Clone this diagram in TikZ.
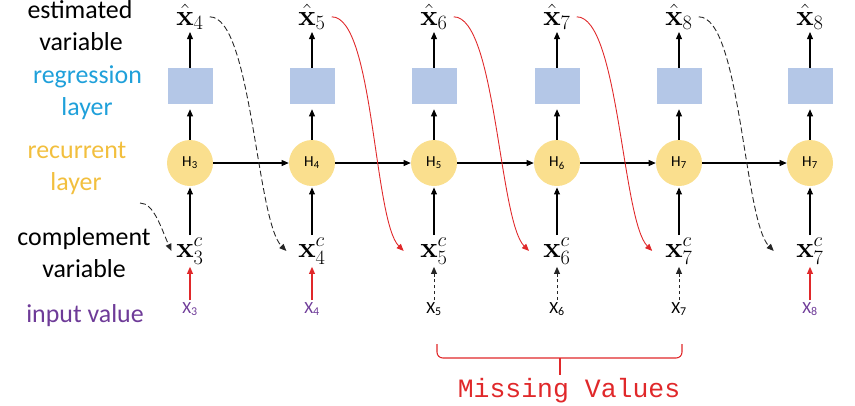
\documentclass[tikz,border=0pt]{standalone}
\usepackage[no-math]{fontspec}
\newfontfamily\labfont{Carlito}
\newfontfamily\mvfont{Liberation Mono}
\usetikzlibrary{arrows.meta}
\definecolor{boxblue}{HTML}{B4C7E7}
\definecolor{cellyellow}{HTML}{FADF8E}
\definecolor{regblue}{HTML}{1FA0DA}
\definecolor{recgold}{HTML}{F2BF3E}
\definecolor{inpurple}{HTML}{6E3B98}
\definecolor{missred}{HTML}{E0282A}
\begin{document}
\begin{tikzpicture}[x=0.85pt,y=-0.85pt,
  cell/.style={circle, fill=cellyellow, minimum size=46*0.85pt, inner sep=0pt, font=\labfont\fontsize{13}{15}\selectfont},
  regbox/.style={rectangle, fill=boxblue, minimum width=45*0.85pt, minimum height=36*0.85pt, inner sep=0pt},
  mathnode/.style={anchor=base, inner sep=2pt, font=\fontsize{24}{28}\selectfont},
  inpnode/.style={anchor=base, inner sep=1.5pt, font=\labfont\fontsize{14.5}{17}\selectfont},
  lbl/.style={anchor=base, inner sep=0pt, font=\labfont\fontsize{22}{26}\selectfont},
  arr/.style={-{Triangle[length=6pt,width=5pt]}, line width=0.9pt, black},
  solidin/.style={-{Triangle[length=6pt,width=5pt]}, line width=0.9pt, missred},
  dashin/.style={-{Triangle[length=6pt,width=5pt]}, line width=0.8pt, black!85, dash pattern=on 3pt off 2pt},
  redcarry/.style={-{Triangle[length=6pt,width=5pt]}, line width=0.75pt, missred},
  blackcarry/.style={-{Triangle[length=6pt,width=5pt]}, line width=0.75pt, black!85, dash pattern=on 5pt off 2.5pt},
]
\useasboundingbox (0,0) rectangle (855,405);

% left labels
\node[lbl] (l1a) at (80,18) {estimated};
\node[lbl] (l1b) at (81,50) {variable};
\node[lbl, text=regblue] (l2a) at (87.5,83) {regression};
\node[lbl, text=regblue] (l2b) at (87,115) {layer};
\node[lbl, text=recgold] (l3a) at (77,158) {recurrent};
\node[lbl, text=recgold] (l3b) at (76,190) {layer};
\node[lbl] (l4a) at (84,245) {complement};
\node[lbl] (l4b) at (84,277) {variable};
\node[lbl, text=inpurple] (l5) at (85,322) {input value};

% columns
\foreach \i/\x/\hs/\es/\cs/\is/\ic/\ia in {
  1/190/3/4/3/3/inpurple/solidin,
  2/312/4/5/4/4/inpurple/solidin,
  3/434/5/6/5/5/black/dashin,
  4/557/6/7/6/6/black/dashin,
  5/679/7/8/7/7/black/dashin,
  6/810/7/8/7/8/inpurple/solidin}{
  \node[cell] (h\i) at (\x,163) {H\textsubscript{\hs}};
  \node[regbox] (b\i) at (\x,86) {};
  \node[mathnode] (e\i) at (\x,25) {$\hat{\mathbf{x}}_{\es}$};
  \node[mathnode] (c\i) at (\x,257) {$\mathbf{x}^{c}_{\cs}$};
  \node[inpnode, text=\ic] (in\i) at (\x,313) {X\textsubscript{\is}};
  \draw[arr] (b\i.north) -- (e\i.south);
  \draw[arr, shorten >=5*0.85pt] (h\i.north) -- (b\i.south);
  \draw[arr, shorten >=1pt] (c\i.north) -- (h\i.south);
  \draw[\ia] (in\i.north) -- (c\i.south);
}

% recurrent connections
\foreach \a/\b in {1/2,2/3,3/4,4/5,5/6}{
  \draw[arr] (h\a.east) -- (h\b.west);
}

% carried estimates
\coordinate (entry) at (140,203);
\draw[blackcarry] (entry) .. controls +(14,0) and +(-10,-22) .. ([xshift=-2pt]c1.west);
\draw[blackcarry] ([xshift=3pt]e1.east) .. controls +(42,0) and +(-30,-30) .. ([xshift=-8pt]c2.west);
\draw[redcarry] ([xshift=3pt]e2.east) .. controls +(42,0) and +(-30,-30) .. ([xshift=-12pt]c3.west);
\draw[redcarry] ([xshift=3pt]e3.east) .. controls +(42,0) and +(-30,-30) .. ([xshift=-10pt]c4.west);
\draw[redcarry] ([xshift=3pt]e4.east) .. controls +(42,0) and +(-30,-30) .. ([xshift=-9pt]c5.west);
\draw[blackcarry] ([xshift=3pt]e5.east) .. controls +(42,0) and +(-30,-30) .. ([xshift=-17pt]c6.west);

% missing values brace
\coordinate (bl) at (437,344);
\coordinate (br) at (682,344);
\coordinate (bm) at (560,358);
\coordinate (bt) at (560,375);
\draw[missred, line width=0.9pt, rounded corners=5pt] (bl) |- (bm) -| (br);
\draw[missred, line width=0.9pt] (bm) -- (bt);
\node[anchor=base, inner sep=0pt, text=missred, font=\mvfont\fontsize{22.5}{26}\selectfont] (mv) at (569,397) {Missing Values};
\end{tikzpicture}
\end{document}
